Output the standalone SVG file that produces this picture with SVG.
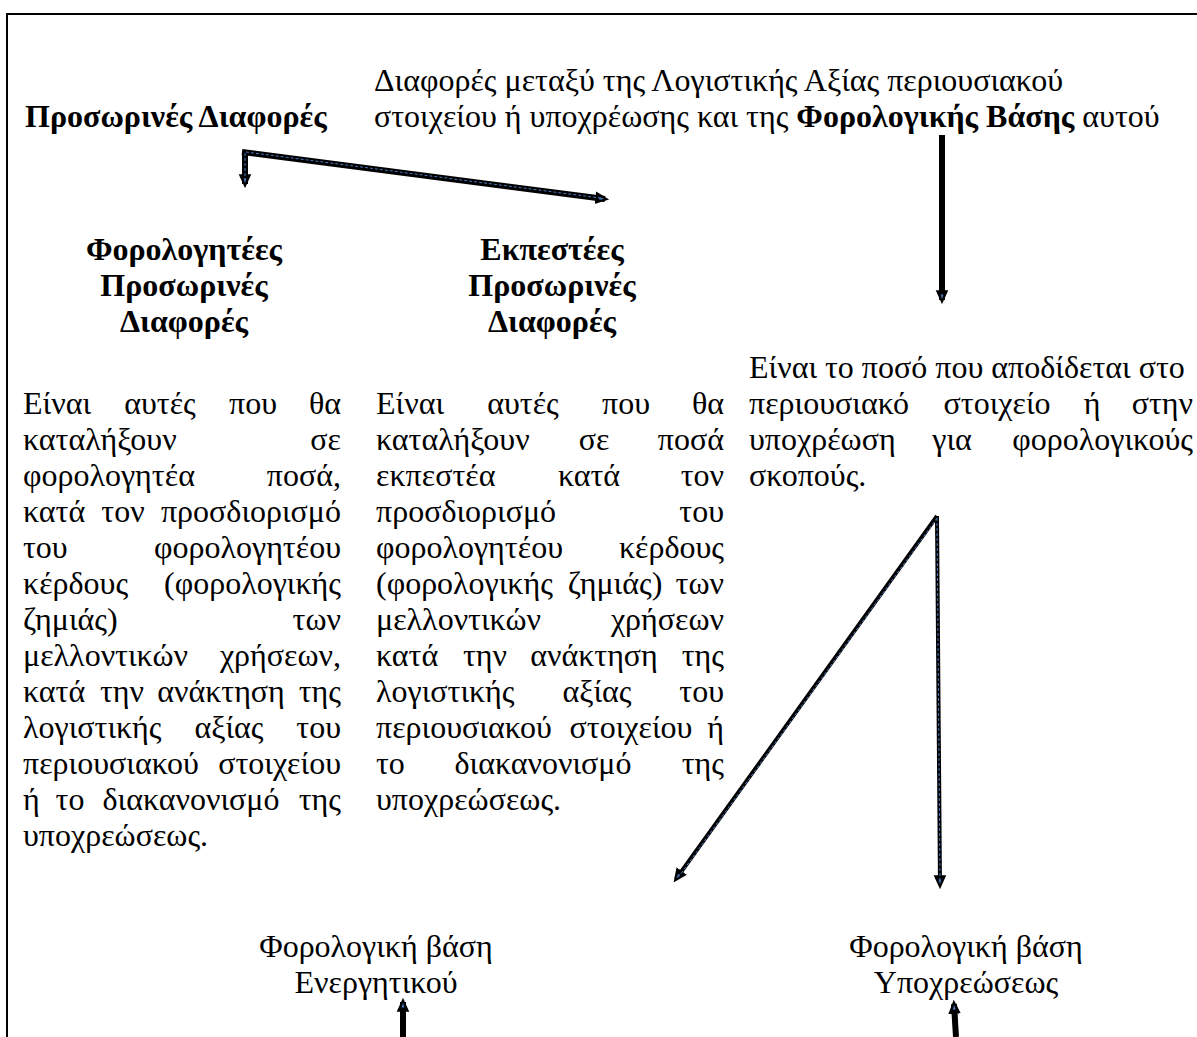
<svg xmlns="http://www.w3.org/2000/svg" width="1197" height="1037" viewBox="0 0 1197 1037">
<style>
.b{font-size:32px}
.h{font-size:32px;font-weight:bold}
.m{text-anchor:middle}
.e{text-anchor:end}
.bd{font-weight:bold}
.c{fill:none;stroke:#000;stroke-linecap:butt}
.in{fill:none;stroke:#4a78c0;stroke-width:1;stroke-dasharray:3 2}
</style>
<defs>
<marker id="ah" viewBox="0 0 10 10" refX="7" refY="5" markerWidth="14" markerHeight="14" orient="auto" markerUnits="userSpaceOnUse">
<path d="M0,0.5 L10,5 L0,9.5 Z" fill="#000"/>
<path d="M3,4 L6.5,5 L3,6 Z" fill="#4a78c0"/>
</marker>
</defs>
<rect width="1197" height="1037" fill="#fff"/>
<g id="frame"><path d="M7,1037 V14 H1197" fill="none" stroke="#000" stroke-width="2"/></g>

<g id="connectors">
<path class="c" stroke-width="6" d="M245,152 V184" marker-end="url(#ah)"/>
<path class="c" stroke-width="6" d="M242,152 L605,199" marker-end="url(#ah)"/>
<path class="in" d="M245,153 V180 M246,152 L600,198"/>
<path class="c" stroke-width="6" d="M942,135 V300" marker-end="url(#ah)"/>
<path class="c" stroke-width="4" stroke="#111a26" d="M937,516 L676,879" marker-end="url(#ah)"/>
<path class="c" stroke-width="4" stroke="#111a26" d="M937,516 L940,885" marker-end="url(#ah)"/>
<path class="in" d="M937,518 L680,875 M937,518 L940,880"/>
<path class="c" stroke-width="6" d="M403,1037 V1002" marker-end="url(#ah)"/>
<path class="c" stroke-width="6" d="M956,1037 L954,1004" marker-end="url(#ah)"/>
</g>

<g font-family="Liberation Serif, serif" fill="#000">
<g id="node-temporary">
<text class="h" x="25" y="127">Προσωρινές Διαφορές</text>
</g>

<g id="node-definition">
<text class="b" x="374" y="91">Διαφορές μεταξύ της Λογιστικής Αξίας περιουσιακού</text>
<text class="b" x="374" y="127">στοιχείου ή υποχρέωσης και της <tspan class="bd">Φορολογικής Βάσης</tspan> αυτού</text>
</g>

<g id="node-taxable">
<text class="h m" x="184" y="260">Φορολογητέες</text>
<text class="h m" x="184" y="296">Προσωρινές</text>
<text class="h m" x="184" y="332">Διαφορές</text>
<text class="b" x="23" y="414">Είναι</text><text class="b m" x="160" y="414">αυτές</text><text class="b m" x="253" y="414">που</text><text class="b e" x="341" y="414">θα</text>
<text class="b" x="23" y="450">καταλήξουν</text><text class="b e" x="341" y="450">σε</text>
<text class="b" x="23" y="486">φορολογητέα</text><text class="b e" x="341" y="486">ποσά,</text>
<text class="b" x="23" y="522">κατά</text><text class="b m" x="123" y="522">τον</text><text class="b e" x="341" y="522">προσδιορισμό</text>
<text class="b" x="23" y="558">του</text><text class="b e" x="341" y="558">φορολογητέου</text>
<text class="b" x="23" y="594">κέρδους</text><text class="b e" x="341" y="594">(φορολογικής</text>
<text class="b" x="23" y="630">ζημιάς)</text><text class="b e" x="341" y="630">των</text>
<text class="b" x="23" y="666">μελλοντικών</text><text class="b e" x="341" y="666">χρήσεων,</text>
<text class="b" x="23" y="702">κατά</text><text class="b m" x="122" y="702">την</text><text class="b m" x="221" y="702">ανάκτηση</text><text class="b e" x="341" y="702">της</text>
<text class="b" x="23" y="738">λογιστικής</text><text class="b m" x="229" y="738">αξίας</text><text class="b e" x="341" y="738">του</text>
<text class="b" x="23" y="774">περιουσιακού</text><text class="b e" x="341" y="774">στοιχείου</text>
<text class="b" x="23" y="810">ή</text><text class="b m" x="70" y="810">το</text><text class="b m" x="191" y="810">διακανονισμό</text><text class="b e" x="341" y="810">της</text>
<text class="b" x="23" y="846">υποχρεώσεως.</text>
</g>

<g id="node-deductible">
<text class="h m" x="552" y="260">Εκπεστέες</text>
<text class="h m" x="552" y="296">Προσωρινές</text>
<text class="h m" x="552" y="332">Διαφορές</text>
<text class="b" x="376" y="414">Είναι</text><text class="b m" x="523" y="414">αυτές</text><text class="b m" x="626" y="414">που</text><text class="b e" x="724" y="414">θα</text>
<text class="b" x="376" y="450">καταλήξουν</text><text class="b m" x="594" y="450">σε</text><text class="b e" x="724" y="450">ποσά</text>
<text class="b" x="376" y="486">εκπεστέα</text><text class="b m" x="589" y="486">κατά</text><text class="b e" x="724" y="486">τον</text>
<text class="b" x="376" y="522">προσδιορισμό</text><text class="b e" x="724" y="522">του</text>
<text class="b" x="376" y="558">φορολογητέου</text><text class="b e" x="724" y="558">κέρδους</text>
<text class="b" x="376" y="594">(φορολογικής</text><text class="b m" x="615" y="594">ζημιάς)</text><text class="b e" x="724" y="594">των</text>
<text class="b" x="376" y="630">μελλοντικών</text><text class="b e" x="724" y="630">χρήσεων</text>
<text class="b" x="376" y="666">κατά</text><text class="b m" x="485" y="666">την</text><text class="b m" x="594" y="666">ανάκτηση</text><text class="b e" x="724" y="666">της</text>
<text class="b" x="376" y="702">λογιστικής</text><text class="b m" x="597" y="702">αξίας</text><text class="b e" x="724" y="702">του</text>
<text class="b" x="376" y="738">περιουσιακού</text><text class="b m" x="631" y="738">στοιχείου</text><text class="b e" x="724" y="738">ή</text>
<text class="b" x="376" y="774">το</text><text class="b m" x="543" y="774">διακανονισμό</text><text class="b e" x="724" y="774">της</text>
<text class="b" x="376" y="810">υποχρεώσεως.</text>
</g>

<g id="node-taxbase">
<text class="b" x="749" y="378">Είναι το ποσό που αποδίδεται στο</text>
<text class="b" x="749" y="414">περιουσιακό</text><text class="b m" x="997" y="414">στοιχείο</text><text class="b m" x="1092" y="414">ή</text><text class="b e" x="1193" y="414">στην</text>
<text class="b" x="749" y="450">υποχρέωση</text><text class="b m" x="952" y="450">για</text><text class="b e" x="1193" y="450">φορολογικούς</text>
<text class="b" x="749" y="486">σκοπούς.</text>
</g>

<g id="node-asset">
<text class="b m" x="376" y="957">Φορολογική βάση</text>
<text class="b m" x="376" y="993">Ενεργητικού</text>
</g>

<g id="node-liability">
<text class="b m" x="966" y="957">Φορολογική βάση</text>
<text class="b m" x="966" y="993">Υποχρεώσεως</text>
</g>
</g>
</svg>
